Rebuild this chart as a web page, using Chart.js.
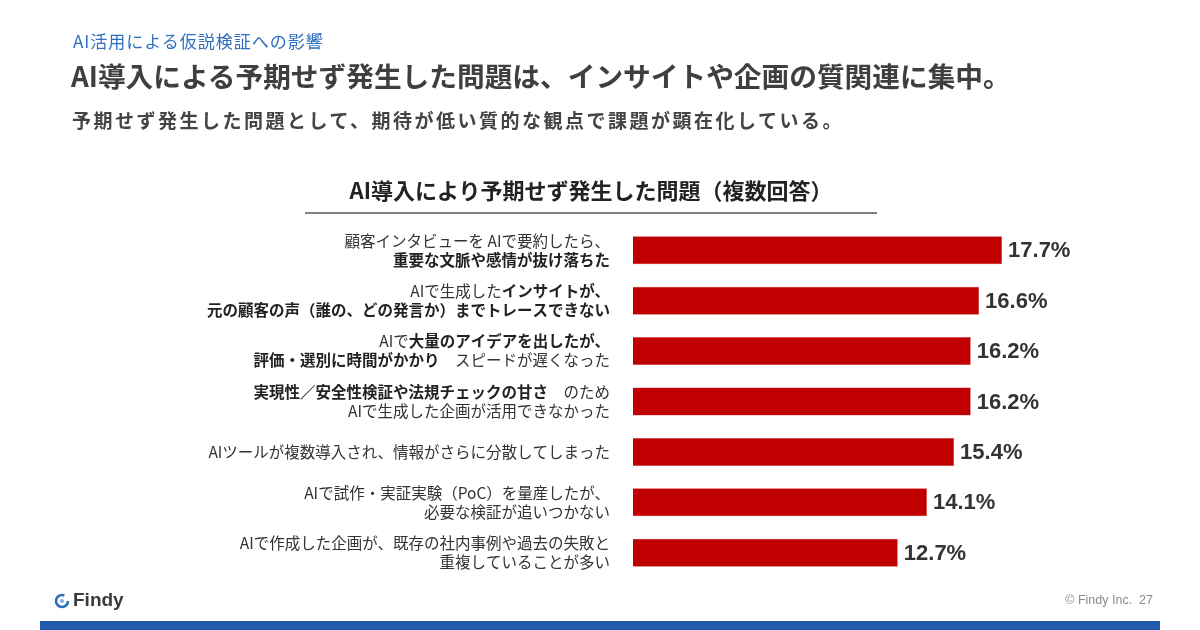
<!DOCTYPE html>
<html lang="ja">
<head>
<meta charset="utf-8">
<script src="https://cdn.jsdelivr.net/npm/chart.js@4.4.1/dist/chart.umd.min.js"></script>
<style>
  html, body { margin: 0; padding: 0; background: #fff; }
  body { width: 1200px; height: 630px; position: relative; overflow: hidden;
         font-family: "Noto Sans CJK JP", "Noto Sans", sans-serif; }
  .txt { position: absolute; white-space: nowrap; line-height: 1; }
  #section { left: 73px; top: 32px; font-size: 17px; color: #2f6fbf; letter-spacing: 1px; }
  #title { left: 71px; top: 62px; font-size: 27.7px; font-weight: bold; color: #3f3f3f; }
  #subtitle { left: 72px; top: 110px; font-size: 19px; font-weight: bold; color: #444; letter-spacing: 2.5px; }
  #chartTitle { left: 305px; width: 572px; text-align: center; top: 178px; font-size: 22px; font-weight: bold; color: #222; }
  #rule { position: absolute; left: 305px; top: 212px; width: 572px; height: 1.5px; background: #808080; }
  #logo { left: 54px; top: 590px; font-family: "Liberation Sans", Arial, sans-serif; font-size: 19px; font-weight: bold; color: #3a3a3a; }
  #logo svg { vertical-align: -3px; margin-right: 3px; }
  #copy { right: 47px; top: 594px; font-family: "Liberation Sans", Arial, sans-serif; font-size: 12.5px; color: #8a8a8a; }
  #band { position: absolute; left: 40px; top: 621px; width: 1120px; height: 9px; background: #1f5ba8; }
  #wrap { position: absolute; left: 0; top: 0; width: 1200px; height: 630px; }
</style>
</head>
<body>
<div id="wrap"><canvas id="myChart"></canvas></div>
<div class="txt" id="section">AI活用による仮説検証への影響</div>
<div class="txt" id="title">AI導入による予期せず発生した問題は、インサイトや企画の質関連に集中。</div>
<div class="txt" id="subtitle">予期せず発生した問題として、期待が低い質的な観点で課題が顕在化している。</div>
<div class="txt" id="chartTitle">AI導入により予期せず発生した問題（複数回答）</div>
<div id="rule"></div>
<div class="txt" id="logo"><svg width="16" height="16" viewBox="0 0 16 16"><circle cx="8" cy="8" r="6" fill="none" stroke="#2f6fbf" stroke-width="2.6" stroke-dasharray="30 8"/><circle cx="8" cy="8" r="2" fill="#7ab0e8"/></svg>Findy</div>
<div class="txt" id="copy">© Findy Inc.&nbsp;&nbsp;27</div>
<div id="band"></div>
<script>
// カテゴリ（**で囲んだ部分は太字）
const categories = [
  ["顧客インタビューを AIで要約したら、", "**重要な文脈や感情が抜け落ちた**"],
  ["AIで生成した**インサイトが、**", "**元の顧客の声（誰の、どの発言か）までトレースできない**"],
  ["AIで**大量のアイデアを出したが、**", "**評価・選別に時間がかかり**　スピードが遅くなった"],
  ["**実現性／安全性検証や法規チェックの甘さ**　のため", "AIで生成した企画が活用できなかった"],
  ["AIツールが複数導入され、情報がさらに分散してしまった"],
  ["AIで試作・実証実験（PoC）を量産したが、", "必要な検証が追いつかない"],
  ["AIで作成した企画が、既存の社内事例や過去の失敗と", "重複していることが多い"],
];

// 割合（%）
const values = [17.7, 16.6, 16.2, 16.2, 15.4, 14.1, 12.7];

const barColor = "#c00000";
const jpFont = '"Noto Sans CJK JP", sans-serif';
const labelSize = 15.5;

// 太字混在のカテゴリラベルを描く
const richLabels = {
  id: "richLabels",
  afterDraw(chart) {
    const ctx = chart.ctx;
    const yScale = chart.scales.y;
    const right = chart.chartArea.left - 23;
    ctx.save();
    ctx.textBaseline = "middle";
    ctx.textAlign = "left";
    categories.forEach((lines, i) => {
      const cy = yScale.getPixelForValue(i);
      lines.forEach((line, j) => {
        const ly = cy + (j - (lines.length - 1) / 2) * 19;
        const parts = line.split("**").map((t, k) => ({ text: t, bold: k % 2 === 1 }));
        let total = 0;
        parts.forEach((p) => {
          ctx.font = (p.bold ? "bold " : "") + labelSize + "px " + jpFont;
          p.w = ctx.measureText(p.text).width;
          total += p.w;
        });
        let x = right - total;
        parts.forEach((p) => {
          ctx.font = (p.bold ? "bold " : "") + labelSize + "px " + jpFont;
          ctx.fillStyle = p.bold ? "#222" : "#333";
          ctx.fillText(p.text, x, ly);
          x += p.w;
        });
      });
    });
    ctx.restore();
  },
};

// バーの右に数値を表示
const valueLabels = {
  id: "valueLabels",
  afterDatasetsDraw(chart) {
    const ctx = chart.ctx;
    const meta = chart.getDatasetMeta(0);
    ctx.save();
    ctx.font = 'bold 22px "Liberation Sans", Arial, sans-serif';
    ctx.fillStyle = "#333";
    ctx.textAlign = "left";
    ctx.textBaseline = "middle";
    meta.data.forEach((bar, i) => {
      ctx.fillText(values[i].toFixed(1) + "%", bar.x + 6, bar.y + 1);
    });
    ctx.restore();
  },
};

const ctx = document.getElementById("myChart").getContext("2d");
new Chart(ctx, {
  type: "bar",
  data: {
    labels: categories.map((l) => l.join("").replace(/\*\*/g, "")),
    datasets: [
      {
        data: values,
        backgroundColor: barColor,
        borderColor: "#d04040",
        borderWidth: 0.5,
        barPercentage: 0.555,
        categoryPercentage: 1,
      },
    ],
  },
  options: {
    indexAxis: "y",
    responsive: true,
    maintainAspectRatio: false,
    animation: false,
    layout: {
      padding: { left: 633, right: 150, top: 225, bottom: 52 },
    },
    plugins: {
      legend: { display: false },
      tooltip: { enabled: false },
    },
    scales: {
      x: { display: false, min: 0, max: 20 },
      y: { display: false },
    },
  },
  plugins: [richLabels, valueLabels],
});
</script>
</body>
</html>
